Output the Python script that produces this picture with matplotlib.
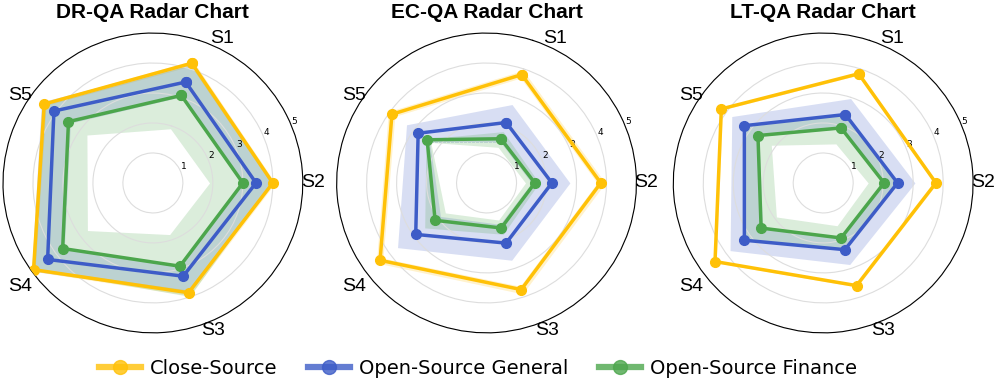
import numpy as np
import matplotlib
matplotlib.use("Agg")
import matplotlib.pyplot as plt

# categorias y datos (media, minimo, maximo) por grupo
categories = ["S1", "S2", "S3", "S4", "S5"]
titles = ["DR-QA Radar Chart", "EC-QA Radar Chart", "LT-QA Radar Chart"]
groups = ["Close-Source", "Open-Source General", "Open-Source Finance"]

# DR-QA
dr_close = [4.2, 4.0, 3.85, 4.92, 4.48]
dr_close_lo = [4.1, 3.92, 3.75, 4.85, 4.4]
dr_close_hi = [4.3, 4.08, 3.95, 5.0, 4.55]
dr_general = [3.54, 3.44, 3.27, 4.34, 4.08]
dr_general_lo = [3.02, 2.95, 2.88, 3.65, 3.4]
dr_general_hi = [4.2, 4.0, 3.85, 5.0, 4.6]
dr_finance = [3.07, 3.0, 2.92, 3.72, 3.48]
dr_finance_lo = [1.9, 1.89, 1.81, 2.7, 2.72]
dr_finance_hi = [4.15, 3.95, 3.98, 4.9, 4.45]

# EC-QA
ec_close = [3.8, 3.81, 3.74, 4.39, 3.9]
ec_close_lo = [3.68, 3.69, 3.62, 4.27, 3.78]
ec_close_hi = [3.95, 3.96, 3.89, 4.54, 4.05]
ec_general = [2.12, 2.18, 2.11, 2.92, 2.82]
ec_general_lo = [1.45, 1.5, 1.45, 1.9, 2.35]
ec_general_hi = [2.75, 2.78, 2.71, 3.67, 3.3]
ec_finance = [1.55, 1.61, 1.58, 2.12, 2.45]
ec_finance_lo = [1.25, 1.3, 1.3, 1.7, 2.3]
ec_finance_hi = [1.8, 1.75, 1.8, 2.55, 2.5]

# LT-QA
lt_close = [3.83, 3.76, 3.6, 4.46, 4.2]
lt_close_lo = [3.78, 3.71, 3.55, 4.41, 4.15]
lt_close_hi = [3.88, 3.81, 3.65, 4.51, 4.25]
lt_general = [2.4, 2.48, 2.34, 3.25, 3.25]
lt_general_lo = [1.9, 2.0, 1.9, 2.5, 2.65]
lt_general_hi = [2.96, 3.06, 2.86, 3.84, 3.77]
lt_finance = [1.93, 2.03, 1.93, 2.56, 2.69]
lt_finance_lo = [1.37, 1.5, 1.5, 1.93, 2.14]
lt_finance_hi = [2.4, 2.45, 2.3, 3.2, 3.2]

colors = ["#FFC107", "#3D5CC7", "#4CA64C"]

datasets = [
    [(dr_close, dr_close_lo, dr_close_hi),
     (dr_general, dr_general_lo, dr_general_hi),
     (dr_finance, dr_finance_lo, dr_finance_hi)],
    [(ec_close, ec_close_lo, ec_close_hi),
     (ec_general, ec_general_lo, ec_general_hi),
     (ec_finance, ec_finance_lo, ec_finance_hi)],
    [(lt_close, lt_close_lo, lt_close_hi),
     (lt_general, lt_general_lo, lt_general_hi),
     (lt_finance, lt_finance_lo, lt_finance_hi)],
]

angles = np.linspace(0, 2 * np.pi, len(categories), endpoint=False)
angles_c = np.concatenate([angles, angles[:1]])

# donde van las etiquetas S1..S5 (angulo en coordenadas del eje, radio)
label_theta = np.deg2rad([7.4, 72, 139.8, 214, 285.5])
label_r = [5.35, 5.33, 5.3, 5.6, 5.3]


def close_loop(v):
    v = list(v)
    return v + v[:1]


fig = plt.figure(figsize=(9.96, 3.78), dpi=100)
lefts = [0.003, 0.338, 0.676]

handles = []
for i, (title, data) in enumerate(zip(titles, datasets)):
    ax = fig.add_axes([lefts[i], 0.119, 0.301, 0.794], projection="polar")
    ax.set_theta_offset(np.deg2rad(72))
    ax.set_theta_direction(-1)

    for j, (mean, lo, hi) in enumerate(data):
        ax.fill_between(angles_c, close_loop(lo), close_loop(hi),
                        color=colors[j], alpha=0.2, linewidth=0)
    for j in [2, 1, 0]:
        mean = data[j][0]
        ln, = ax.plot(angles_c, close_loop(mean), color=colors[j], lw=2.5,
                      marker="o", markersize=7, label=groups[j], zorder=5 - j)
        if i == 0:
            handles.append(ln)

    ax.set_ylim(0, 5)
    ax.set_yticks([1, 2, 3, 4, 5])
    ax.set_yticklabels(["1", "2", "3", "4", "5"], fontsize=6.5)
    ax.set_rlabel_position(49.5)
    ax.set_xticks(angles)
    ax.set_xticklabels([])
    for lab, th, r in zip(categories, label_theta, label_r):
        ax.text(th, r, lab, fontsize=14, family="Liberation Sans",
                ha="center", va="center", clip_on=False)
    ax.xaxis.grid(False)
    ax.yaxis.grid(True, color="#dddddd", lw=0.8)
    ax.spines["polar"].set_linewidth(0.8)
    ax.set_title(title, fontsize=15, fontweight="bold",
                 family="Liberation Sans", y=1.05, pad=0)

handles = handles[::-1]
leg = fig.legend(handles, groups, loc="lower center", ncol=3, frameon=False,
                 fontsize=14, bbox_to_anchor=(0.48, -0.045), handlelength=2.15,
                 handletextpad=0.5, columnspacing=1.55)
for h in leg.legend_handles:
    h.set_linewidth(4.5)
    h.set_markersize(10)
    h.set_alpha(0.8)

fig.savefig("out.png", dpi=100)
